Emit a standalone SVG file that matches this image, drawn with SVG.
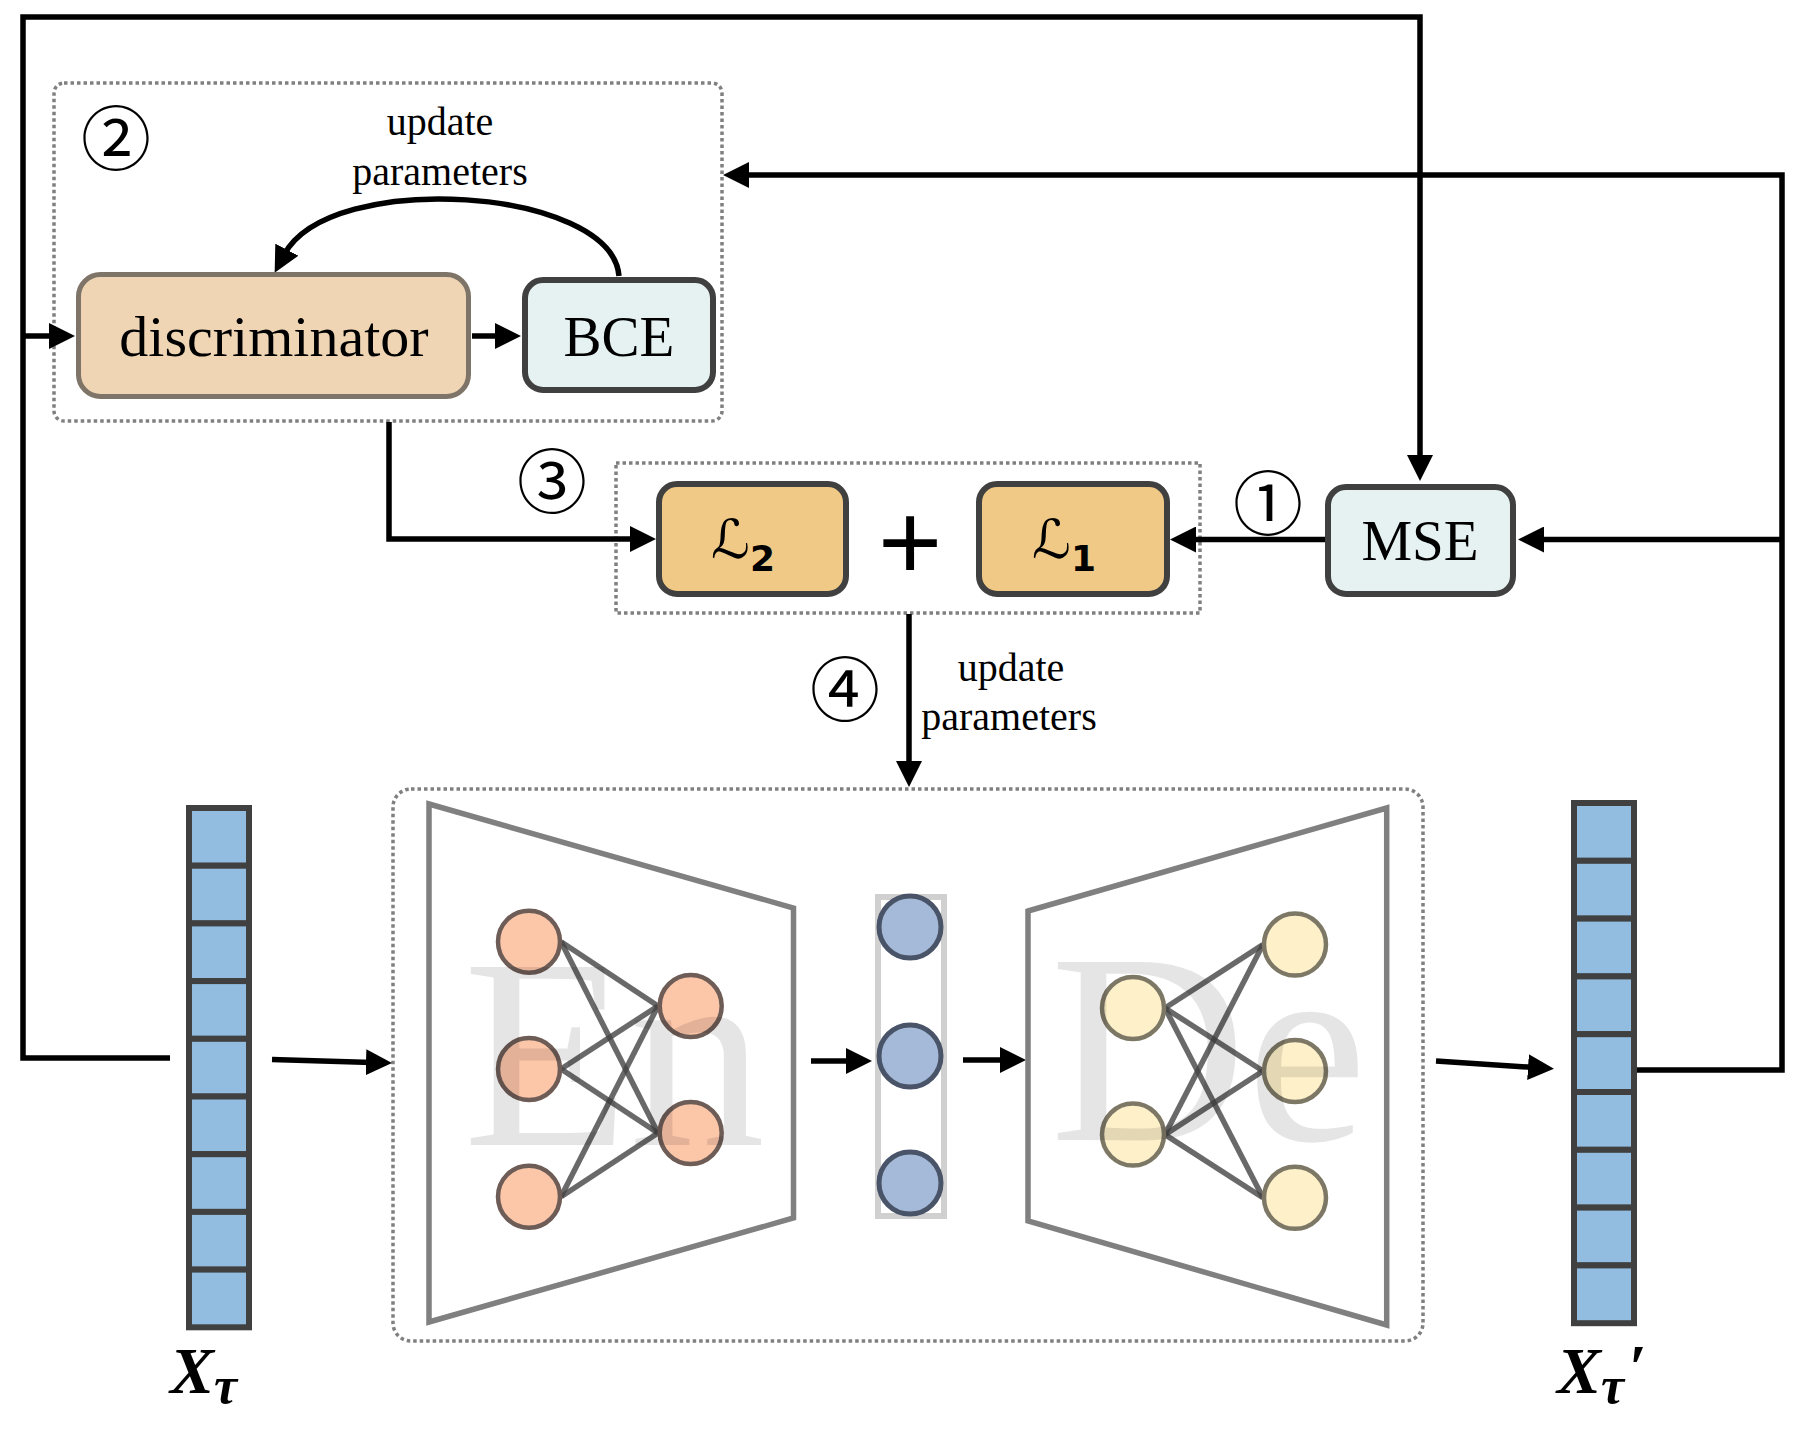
<svg xmlns="http://www.w3.org/2000/svg" width="1806" height="1435" viewBox="0 0 1806 1435">
<style>
.serif{font-family:"Liberation Serif","Times New Roman",serif;fill:#000}
.circ{font-family:"Noto Sans CJK JP","Noto Sans CJK SC",sans-serif;fill:#000;font-size:70px;text-anchor:middle}
.conn{fill:none;stroke:#000;stroke-width:5.5;stroke-linejoin:miter}
.dot{fill:none;stroke:#808080;stroke-width:3.5;stroke-dasharray:3.5 3}
.cell{fill:#92BDE0;stroke:#404040;stroke-width:6}
.enc{fill:#FCC6A9;stroke:#6e5c56;stroke-width:4.5}
.dec{fill:#FEF0C9;stroke:#7d7866;stroke-width:4.5}
.lat{fill:#A5B9D9;stroke:#495468;stroke-width:5}
.edge{stroke:#444;stroke-opacity:0.8;stroke-width:5.5}
.trap{fill:none;stroke:#808080;stroke-width:5.5}
.wm{font-family:"Liberation Serif","Times New Roman",serif;font-size:272px;fill:#000;fill-opacity:0.1}
.lsym{font-family:"DejaVu Sans",sans-serif;font-size:54px;text-anchor:middle}
.lsub{font-family:"DejaVu Sans",sans-serif;font-weight:bold;font-size:36px}
</style>
<defs>
<marker id="ah" markerUnits="userSpaceOnUse" viewBox="0 0 26 26" markerWidth="26" markerHeight="26" refX="6" refY="13" orient="auto">
<path d="M0,0 L26,13 L0,26 z" fill="#000"/>
</marker>
</defs>
<rect width="1806" height="1435" fill="#fff"/>

<!-- grouping boxes -->
<g id="group-disc"><rect class="dot" x="54" y="83" width="668" height="338" rx="10"/></g>
<g id="group-loss"><rect class="dot" x="616" y="463" width="584" height="150"/></g>
<g id="group-ae"><rect class="dot" x="393" y="789" width="1030" height="552" rx="18"/></g>

<!-- connectors -->
<g id="connectors">
<path class="conn" d="M170,1058 H23 V17 H1420 V461" marker-end="url(#ah)"/>
<path class="conn" d="M23,336 H55" marker-end="url(#ah)"/>
<path class="conn" d="M472,336 H501" marker-end="url(#ah)"/>
<path class="conn" d="M619,276 C612,188 330,168 284,255" marker-end="url(#ah)"/>
<path class="conn" d="M389,422 V539 H636" marker-end="url(#ah)"/>
<path class="conn" d="M1326,539.5 H1190" marker-end="url(#ah)"/>
<path class="conn" d="M1635,1070 H1782 V175 H743" marker-end="url(#ah)"/>
<path class="conn" d="M1782,539.5 H1538" marker-end="url(#ah)"/>
<path class="conn" d="M909,614 V767" marker-end="url(#ah)"/>
<path class="conn" d="M272,1059.5 L372,1062.4" marker-end="url(#ah)"/>
<path class="conn" d="M811,1061 H852" marker-end="url(#ah)"/>
<path class="conn" d="M963,1060 H1006" marker-end="url(#ah)"/>
<path class="conn" d="M1436,1061 L1534,1067.5" marker-end="url(#ah)"/>
</g>

<!-- labels -->
<g id="labels">
<text class="circ" x="116" y="165">②</text>
<text class="circ" x="552" y="508">③</text>
<text class="circ" x="1268" y="530">①</text>
<text class="circ" x="845" y="716">④</text>
<text class="serif" x="440" y="135" font-size="40" text-anchor="middle">update</text>
<text class="serif" x="440" y="185" font-size="40" text-anchor="middle">parameters</text>
<text class="serif" x="1011" y="681" font-size="40" text-anchor="middle">update</text>
<text class="serif" x="1009" y="730" font-size="40" text-anchor="middle">parameters</text>
<text x="910" y="580" font-family="Liberation Sans, Arial, sans-serif" font-size="110" text-anchor="middle">+</text>
</g>

<g id="discriminator">
<rect x="78.5" y="274.5" width="390" height="122" rx="22" fill="#EFD5B4" stroke="#7E7468" stroke-width="5"/>
<text class="serif" x="274" y="356" font-size="58" text-anchor="middle">discriminator</text>
</g>
<g id="bce">
<rect x="525" y="280" width="188" height="110" rx="18" fill="#E6F2F2" stroke="#404040" stroke-width="6"/>
<text class="serif" x="619" y="356" font-size="57" text-anchor="middle">BCE</text>
</g>
<g id="mse">
<rect x="1328" y="487" width="185" height="107" rx="18" fill="#E6F2F2" stroke="#404040" stroke-width="6"/>
<text class="serif" x="1420" y="560" font-size="57" text-anchor="middle">MSE</text>
</g>
<g id="loss2">
<rect x="659" y="484" width="187" height="110" rx="18" fill="#F0C987" stroke="#404040" stroke-width="6"/>
<text class="lsym" x="743" y="558">ℒ<tspan class="lsub" dy="13">2</tspan></text>
</g>
<g id="loss1">
<rect x="979" y="484" width="188" height="110" rx="18" fill="#F0C987" stroke="#404040" stroke-width="6"/>
<text class="lsym" x="1064" y="558">ℒ<tspan class="lsub" dy="13">1</tspan></text>
</g>

<g id="x-input">
<rect class="cell" x="189" y="808" width="60" height="57.7"/>
<rect class="cell" x="189" y="865.7" width="60" height="57.7"/>
<rect class="cell" x="189" y="923.4" width="60" height="57.7"/>
<rect class="cell" x="189" y="981.1" width="60" height="57.7"/>
<rect class="cell" x="189" y="1038.8" width="60" height="57.7"/>
<rect class="cell" x="189" y="1096.5" width="60" height="57.7"/>
<rect class="cell" x="189" y="1154.2" width="60" height="57.7"/>
<rect class="cell" x="189" y="1211.9" width="60" height="57.7"/>
<rect class="cell" x="189" y="1269.6" width="60" height="57.7"/>
<text class="serif" x="170" y="1393" font-size="66" font-style="italic" font-weight="bold">X<tspan font-size="52" dy="10">τ</tspan></text>
</g>

<g id="x-output">
<rect class="cell" x="1574" y="803" width="60" height="57.8"/>
<rect class="cell" x="1574" y="860.8" width="60" height="57.8"/>
<rect class="cell" x="1574" y="918.6" width="60" height="57.8"/>
<rect class="cell" x="1574" y="976.4" width="60" height="57.8"/>
<rect class="cell" x="1574" y="1034.2" width="60" height="57.8"/>
<rect class="cell" x="1574" y="1092" width="60" height="57.8"/>
<rect class="cell" x="1574" y="1149.8" width="60" height="57.8"/>
<rect class="cell" x="1574" y="1207.6" width="60" height="57.8"/>
<rect class="cell" x="1574" y="1265.4" width="60" height="57.8"/>
<text class="serif" x="1557" y="1393" font-size="66" font-style="italic" font-weight="bold">X<tspan font-size="52" dy="10">τ</tspan><tspan font-size="64" dy="-14" dx="4">′</tspan></text>
</g>

<g id="encoder">
<polygon class="trap" points="429,804 793.5,908 793.5,1218 429,1322"/>
<line class="edge" x1="561" y1="941.7" x2="658" y2="1006"/>
<line class="edge" x1="561" y1="941.7" x2="658" y2="1133"/>
<line class="edge" x1="561" y1="1069" x2="658" y2="1006"/>
<line class="edge" x1="561" y1="1069" x2="658" y2="1133"/>
<line class="edge" x1="561" y1="1196.7" x2="658" y2="1006"/>
<line class="edge" x1="561" y1="1196.7" x2="658" y2="1133"/>
<circle class="enc" cx="529" cy="941.7" r="31"/>
<circle class="enc" cx="529" cy="1069" r="31"/>
<circle class="enc" cx="529" cy="1196.7" r="31"/>
<circle class="enc" cx="690.7" cy="1006" r="31"/>
<circle class="enc" cx="690.7" cy="1133" r="31"/>
<text class="wm" x="463" y="1145">En</text>
</g>

<g id="latent">
<rect x="878" y="897" width="66" height="319" fill="none" stroke="#d0d0d0" stroke-width="6"/>
<circle class="lat" cx="910" cy="927" r="31"/>
<circle class="lat" cx="910" cy="1056" r="31"/>
<circle class="lat" cx="910" cy="1183" r="31"/>
</g>

<g id="decoder">
<polygon class="trap" points="1028,911 1386.7,808 1386.7,1325 1028,1221"/>
<line class="edge" x1="1165" y1="1008" x2="1263" y2="944.6"/>
<line class="edge" x1="1165" y1="1008" x2="1263" y2="1071"/>
<line class="edge" x1="1165" y1="1008" x2="1263" y2="1197.8"/>
<line class="edge" x1="1165" y1="1134.6" x2="1263" y2="944.6"/>
<line class="edge" x1="1165" y1="1134.6" x2="1263" y2="1071"/>
<line class="edge" x1="1165" y1="1134.6" x2="1263" y2="1197.8"/>
<circle class="dec" cx="1133" cy="1008" r="31"/>
<circle class="dec" cx="1133" cy="1134.6" r="31"/>
<circle class="dec" cx="1295" cy="944.6" r="31"/>
<circle class="dec" cx="1295" cy="1071" r="31"/>
<circle class="dec" cx="1295" cy="1197.8" r="31"/>
<text class="wm" x="1050" y="1140">De</text>
</g>
</svg>
